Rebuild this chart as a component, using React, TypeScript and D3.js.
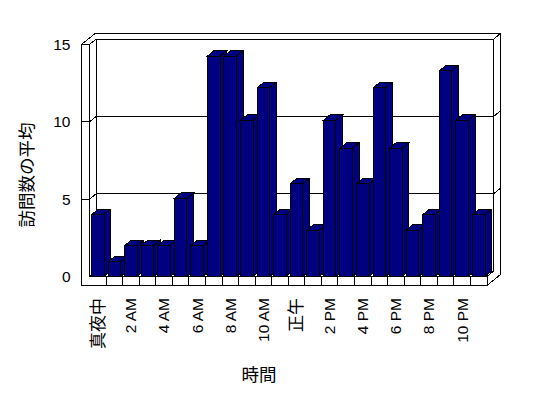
import React from "react";
import * as d3 from "d3";

const hours = [
  "真夜中", "1 AM", "2 AM", "3 AM", "4 AM", "5 AM", "6 AM", "7 AM", "8 AM", "9 AM", "10 AM", "11 AM",
  "正午", "1 PM", "2 PM", "3 PM", "4 PM", "5 PM", "6 PM", "7 PM", "8 PM", "9 PM", "10 PM", "11 PM",
];
const shownLabels = ["真夜中", "2 AM", "4 AM", "6 AM", "8 AM", "10 AM", "正午", "2 PM", "4 PM", "6 PM", "8 PM", "10 PM"];
const avgVisits = [4, 0.95, 2, 2, 2, 5.05, 2, 14.25, 14.25, 10.1, 12.2, 4, 6, 3, 10.1, 8.3, 6, 12.2, 8.3, 3, 4, 13.3, 10.1, 4];
const yTicks = [0, 5, 10, 15];
const yTitle = "訪問数の平均";
const xTitle = "時間";

const W = 548;
const H = 398;
const DX = 6.75;
const DY = -5.5;
const X0 = 81.5;
const YB = 285.5;
const NAVY = "#000080";
const LATIN = "'Liberation Sans', Arial, sans-serif";
const CJK = "'Noto Sans CJK JP', sans-serif";

export default function App() {
  const x = d3.scaleBand<string>().domain(hours).range([89.5, 487]).paddingInner(0.24).paddingOuter(0.12);
  const y = d3.scaleLinear().domain([0, 15]).range([276.5, 44.5]);
  const XI = 89.5;
  const XR = 487;
  const YT = y(15);
  const YF = y(0);
  const step = x.step();
  const bw = x.bandwidth();
  const line = d3.line<[number, number]>();
  const seg = (pts: [number, number][], k: string) => (
    <path key={k} d={line(pts) || ""} fill="none" stroke="#000" strokeWidth={1} />
  );

  const frame: JSX.Element[] = [];
  frame.push(seg([[X0, YT], [XI, YT]], "lwtop"));
  frame.push(seg([[X0, YT], [X0, YB]], "lwout"));
  frame.push(seg([[XI, YT], [XI, YF]], "lwin"));
  frame.push(seg([[X0, YT], [X0 + 2 * DX, YT + 2 * DY]], "lwdiag"));
  frame.push(seg([[XI, YT], [XI + DX, YT + DY]], "lwdiag2"));
  frame.push(seg([[XI + DX, YT + DY], [XI + DX, YF + DY]], "bwleft"));
  frame.push(seg([[XI, YF], [XI + DX, YF + DY]], "lwbot"));
  frame.push(seg([[XI + DX, YT + DY], [XR + DX, YT + DY]], "bwtop"));
  frame.push(seg([[X0 + 2 * DX, YT + 2 * DY], [XR + 2 * DX, YT + 2 * DY]], "bwtop2"));
  frame.push(seg([[XR + DX, YT + DY], [XR + 2 * DX, YT + 2 * DY]], "bwrdiag"));
  frame.push(seg([[XR + DX, YT + DY], [XR + DX, YF + DY]], "bwright"));
  frame.push(seg([[XR + 2 * DX, YT + 2 * DY], [XR + 2 * DX, YB + 2 * DY]], "bwright2"));
  frame.push(seg([[XI + DX, YF + DY], [XR + DX, YF + DY]], "bwbot"));
  yTicks
    .filter((t) => t > 0 && t < 15)
    .forEach((t) => {
      const v = y(t);
      frame.push(
        seg(
          [
            [X0, v],
            [XI, v],
            [XI + DX, v + DY],
            [XR + DX, v + DY],
            [XR + 2 * DX, v + 2 * DY],
          ],
          "g" + t
        )
      );
    });
  frame.push(seg([[XI, YF], [XR, YF]], "fltop"));
  frame.push(seg([[X0, YB], [XR, YB]], "flbot"));
  frame.push(seg([[XR, YF], [XR + DX, YF + DY]], "flrd"));
  frame.push(seg([[XR, YB], [XR + 2 * DX, YB + 2 * DY]], "flrd2"));
  for (let i = 1; i <= hours.length; i++) {
    const xx = XI + i * step;
    frame.push(seg([[xx, YF], [xx, YB]], "div" + i));
  }

  const bars = hours.map((h, i) => {
    const bx = x(h)!;
    const ty = y(avgVisits[i]);
    const front: [number, number][] = [[bx, ty], [bx + bw, ty], [bx + bw, YF], [bx, YF]];
    const top: [number, number][] = [[bx, ty], [bx + bw, ty], [bx + bw + DX, ty + DY], [bx + DX, ty + DY]];
    const side: [number, number][] = [[bx + bw, ty], [bx + bw + DX, ty + DY], [bx + bw + DX, YF + DY], [bx + bw, YF]];
    const poly = (p: [number, number][]) => (line(p) || "") + "Z";
    return (
      <g key={h}>
        <path d={poly(side)} fill={NAVY} stroke="#000" />
        <path d={poly(top)} fill={NAVY} stroke="#000" />
        <path d={poly(front)} fill={NAVY} stroke="#000" />
      </g>
    );
  });

  return (
    <svg
      width={W}
      height={H}
      style={{ position: "absolute", left: 0, top: 0, background: "#fff" }}
      shapeRendering="crispEdges"
    >
      <rect x={0} y={0} width={W} height={H} fill="#fff" />
      {frame}
      {bars}
      {yTicks.map((t) => (
        <text
          key={"yt" + t}
          x={70.5}
          y={y(t)}
          dy="0.35em"
          textAnchor="end"
          fontFamily={LATIN}
          fontSize={15.5}
          fill="#000"
        >
          {t}
        </text>
      ))}
      {shownLabels.map((lab) => {
        const cx = x(lab)! + bw / 2;
        const cjk = /[\u3040-\u9fff]/.test(lab);
        return (
          <text
            key={"xl" + lab}
            transform={`translate(${cx},298) rotate(-90)`}
            dy="0.35em"
            textAnchor="end"
            fontFamily={cjk ? CJK : LATIN}
            fontSize={cjk ? 17 : 15.5}
            fill="#000"
          >
            {lab}
          </text>
        );
      })}
      <text
        transform="translate(27,175) rotate(-90)"
        dy="0.35em"
        textAnchor="middle"
        fontFamily={CJK}
        fontSize={17.5}
        fill="#000"
      >
        {yTitle}
      </text>
      <text x={259} y={375} dy="0.35em" textAnchor="middle" fontFamily={CJK} fontSize={17.5} fill="#000">
        {xTitle}
      </text>
    </svg>
  );
}
